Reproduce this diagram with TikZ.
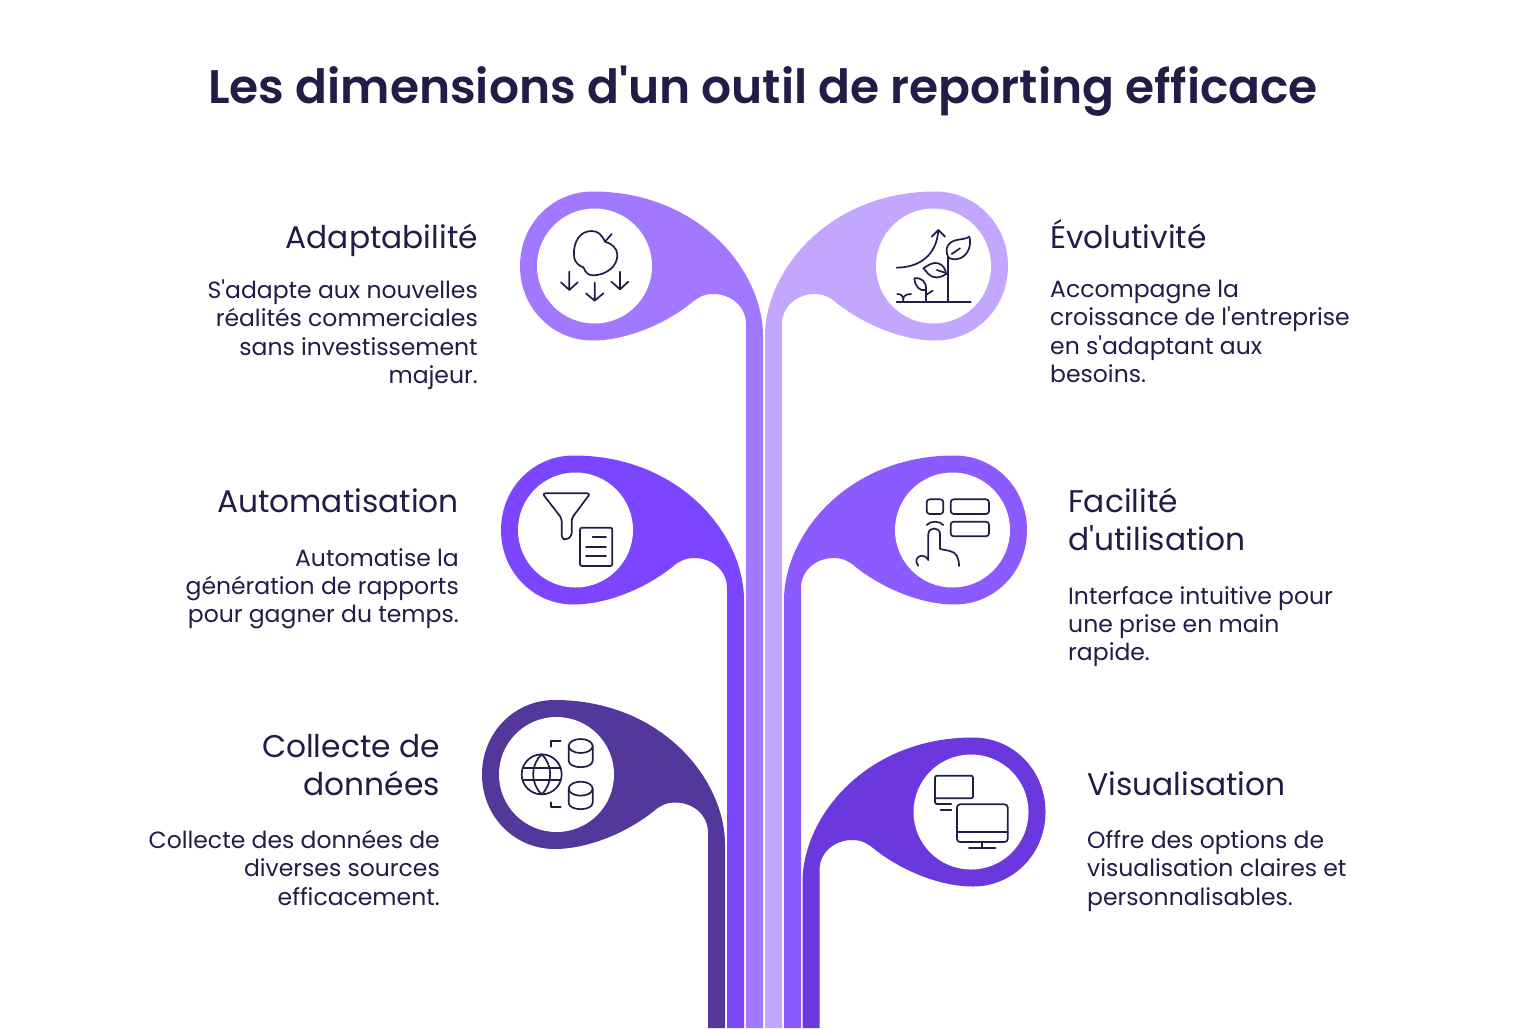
\documentclass[tikz,border=0pt]{standalone}
\usepackage{fontspec}
\setmainfont{Poppins}
\newfontfamily\titlefont{Poppins}[UprightFont=* SemiBold,BoldFont=* SemiBold]
\definecolor{ink}{HTML}{221C46}
\definecolor{cA}{HTML}{A178FF}
\definecolor{cB}{HTML}{C3A7FF}
\definecolor{cC}{HTML}{7C45FF}
\definecolor{cD}{HTML}{8C5BFF}
\definecolor{cE}{HTML}{53379A}
\definecolor{cF}{HTML}{6A38DC}
\newcommand{\leafpath}[3]{% cx, cy, colour
  \fill[#3] (#1+151.5,1028) -- (#1+151.5,#2+58)
   .. controls (#1+151.5,#2+40) and (#1+136,#2+28) .. (#1+119,#2+28)
   .. controls (#1+110,#2+28) and (#1+104,#2+31) .. (#1+98,#2+36)
   .. controls (#1+75,#2+55) and (#1+35,#2+74.5) .. (#1-2,#2+74.5)
   .. controls (#1-42,#2+74.5) and (#1-74.5,#2+42) .. (#1-74.5,#2)
   .. controls (#1-74.5,#2-42) and (#1-42,#2-74.5) .. (#1-2,#2-74.5)
   .. controls (#1+105,#2-74.5) and (#1+168.5,#2+5) .. (#1+168.5,#2+70)
   -- (#1+168.5,1028) -- cycle;
  \fill[white] (#1,#2) circle[radius=57.5];}
\newcommand{\leafpathR}[3]{%
  \fill[#3] (#1-151.5,1028) -- (#1-151.5,#2+58)
   .. controls (#1-151.5,#2+40) and (#1-136,#2+28) .. (#1-119,#2+28)
   .. controls (#1-110,#2+28) and (#1-104,#2+31) .. (#1-98,#2+36)
   .. controls (#1-75,#2+55) and (#1-35,#2+74.5) .. (#1+2,#2+74.5)
   .. controls (#1+42,#2+74.5) and (#1+74.5,#2+42) .. (#1+74.5,#2)
   .. controls (#1+74.5,#2-42) and (#1+42,#2-74.5) .. (#1+2,#2-74.5)
   .. controls (#1-105,#2-74.5) and (#1-168.5,#2+5) .. (#1-168.5,#2+70)
   -- (#1-168.5,1028) -- cycle;
  \fill[white] (#1,#2) circle[radius=57.5];}
\tikzset{
  head/.style={text=ink,font=\fontsize{31.3}{38}\selectfont,inner sep=0pt},
  body/.style={text=ink,font=\fontsize{23.5}{28.3}\selectfont,inner sep=0pt},
  ico/.style={draw=ink,line width=1.7pt,line cap=round,line join=round},
  zoomed/.style={x=0.33333pt,y=-0.33333pt},
}
\begin{document}
\begin{tikzpicture}[x=1pt,y=-1pt]
\useasboundingbox (0,0) rectangle (1536,1028);
\fill[white] (0,0) rectangle (1536,1028);
\node[text=ink,inner sep=0pt,font=\titlefont\fontsize{47.1}{56}\selectfont] (title) at (763,91) {Les dimensions d\textquotesingle un outil de reporting efficace};
\leafpath{594.5}{266}{cA}
\leafpathR{933.5}{266}{cB}
\leafpath{575.5}{530}{cC}
\leafpathR{952.5}{530}{cD}
\leafpath{556.5}{774.5}{cE}
\leafpathR{971}{812}{cF}
% text
\node[head,anchor=base east] (h1) at (478,248.5) {Adaptabilité};
\node[body,align=right,anchor=north east] (b1) at (478,279.5) {S\textquotesingle adapte aux nouvelles\\réalités commerciales\\sans investissement\\majeur.};
\node[head,anchor=base west] (h2) at (1050,248.5) {Évolutivité};
\node[body,align=left,anchor=north west] (b2) at (1050,280) {Accompagne la\\croissance de l\textquotesingle entreprise\\en s\textquotesingle adaptant aux\\besoins.};
\node[head,anchor=base east] (h3) at (459,512.5) {Automatisation};
\node[body,align=right,anchor=north east] (b3) at (459,548) {Automatise la\\génération de rapports\\pour gagner du temps.};
\node[head,align=left,anchor=north west] (h4) at (1068,488) {Facilité\\d\textquotesingle utilisation};
\node[body,align=left,anchor=north west] (b4) at (1068,586) {Interface intuitive pour\\une prise en main\\rapide.};
\node[head,align=right,anchor=north east] (h5) at (440,734) {Collecte de\\données};
\node[body,align=right,anchor=north east] (b5) at (440,830) {Collecte des données de\\diverses sources\\efficacement.};
\node[head,anchor=base west] (h6) at (1087,795) {Visualisation};
\node[body,align=left,anchor=north west] (b6) at (1087,830.5) {Offre des options de\\visualisation claires et\\personnalisables.};
% apple
\begin{scope}[shift={(500,180)},zoomed]
\draw[ico] (335,162) -- (315,185) .. controls (305,165) and (295,153) .. (275,153)
  .. controls (240,153) and (220,185) .. (222,225) .. controls (222,250) and (240,258) .. (250,262)
  .. controls (258,280) and (265,287) .. (285,286) .. controls (320,282) and (352,260) .. (352,225)
  .. controls (352,205) and (335,190) .. (315,185);
\draw[ico] (208,275) -- (208,330) (183,307) -- (208,330) -- (233,307);
\draw[ico] (284,308) -- (284,362) (258,340) -- (284,362) -- (310,340);
\draw[ico] (360,275) -- (360,328) (334,305) -- (360,328) -- (385,305);
\end{scope}
% plant
\begin{scope}[shift={(760,180)},zoomed]
\draw[ico] (410,366) -- (632,366) (565,366) -- (565,232);
\draw[ico] (565,232) .. controls (552,205) and (565,185) .. (590,180) .. controls (605,177) and (618,177) .. (628,170)
  .. controls (635,195) and (625,225) .. (600,235) .. controls (585,240) and (572,238) .. (565,232);
\draw[ico] (575,222) -- (600,205);
\draw[ico] (490,265) .. controls (505,255) and (520,245) .. (535,250) .. controls (550,255) and (557,268) .. (558,282)
  .. controls (540,295) and (520,297) .. (505,282) .. controls (500,275) and (495,270) .. (490,265);
\draw[ico] (530,270) -- (555,278) (558,282) -- (565,282);
\draw[ico] (498,366) -- (498,330) .. controls (480,335) and (465,320) .. (463,295)
  .. controls (485,292) and (500,305) .. (498,330);
\draw[ico] (498,345) -- (518,332);
\draw[ico] (430,366) -- (430,355) (412,342) .. controls (422,342) and (430,348) .. (430,355) .. controls (430,348) and (440,342) .. (453,342);
\draw[ico] (410,263) .. controls (480,262) and (530,225) .. (535,150) (515,170) -- (535,150) -- (555,170);
\end{scope}
% funnel
\begin{scope}[shift={(490,450)},zoomed]
\draw[ico,rounded corners=3pt] (157,130) -- (301,130) -- (245,205) -- (245,258) -- (228,270) -- (215,265) -- (215,205) -- cycle;
\draw[ico,rounded corners=2pt] (270,233) rectangle (367,348);
\draw[ico] (308,262) -- (348,262) (288,290) -- (348,290) (288,318) -- (348,318);
\end{scope}
% hand
\begin{scope}[shift={(780,450)},zoomed]
\draw[ico,rounded corners=3pt] (440,148) rectangle (490,192);
\draw[ico,rounded corners=3pt] (512,148) rectangle (627,192);
\draw[ico,rounded corners=3pt] (512,215) rectangle (627,259);
\draw[ico] (440,225) .. controls (450,212) and (480,212) .. (490,225);
\draw[ico] (415,347) .. controls (403,335) and (410,318) .. (425,317) .. controls (435,317) and (440,322) .. (445,330)
  -- (445,252) .. controls (445,230) and (480,230) .. (480,252) -- (480,297) -- (510,303) .. controls (530,307) and (537,325) .. (537,348);
\end{scope}
% globe
\begin{scope}[shift={(475,690)},zoomed]
\draw[ico] (200,253) circle[radius=20pt];
\draw[ico] (200,193) .. controls (166,225) and (166,280) .. (200,313) .. controls (234,280) and (234,225) .. (200,193);
\draw[ico] (143,235) -- (257,235) (143,271) -- (257,271);
\draw[ico] (257,154) -- (227,154) -- (227,170) (257,352) -- (227,352) -- (227,337);
\draw[ico] (317,168) ellipse[x radius=12pt,y radius=7pt];
\draw[ico] (281,168) -- (281,212) .. controls (281,238) and (353,238) .. (353,212) -- (353,168);
\draw[ico] (317,296) ellipse[x radius=12pt,y radius=7pt];
\draw[ico] (281,296) -- (281,338) .. controls (281,364) and (353,364) .. (353,338) -- (353,296);
\end{scope}
% monitors
\begin{scope}[shift={(790,730)},zoomed]
\draw[ico,rounded corners=2pt] (484,222) -- (435,222) -- (435,137) -- (549,137) -- (549,205) -- (435,205);
\draw[ico] (452,241) -- (484,241);
\draw[ico,rounded corners=3pt] (501,223) rectangle (653,336);
\draw[ico] (501,306) -- (653,306) (576,336) -- (576,354) (537,354) -- (616,354);
\end{scope}
\end{tikzpicture}
\end{document}
